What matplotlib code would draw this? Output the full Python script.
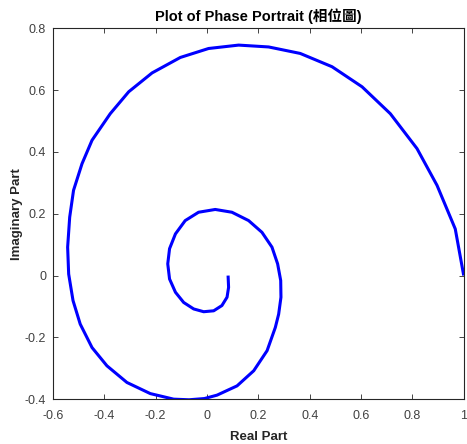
import matplotlib
matplotlib.use("Agg")
import matplotlib.pyplot as plt

# Trajectory in the complex plane, from the starting point (1, 0) spiralling inward.
real_part = [
    1.000, 0.967, 0.896, 0.818, 0.714, 0.604, 0.487, 0.363, 0.240, 0.123,
    0.006, -0.104, -0.214, -0.305, -0.377, -0.448, -0.487, -0.520, -0.535, -0.543,
    -0.539, -0.522, -0.494, -0.448, -0.390, -0.312, -0.221, -0.130, -0.070, -0.010,
    0.039, 0.117, 0.182, 0.234, 0.266, 0.279, 0.288, 0.287, 0.275, 0.253,
    0.214, 0.162, 0.097, 0.032, -0.033, -0.085, -0.123, -0.146, -0.153, -0.146,
    -0.123, -0.091, -0.052, -0.013, 0.026, 0.058, 0.078, 0.084, 0.082,
]
imag_part = [
    0.000, 0.151, 0.292, 0.411, 0.524, 0.611, 0.676, 0.719, 0.740, 0.746,
    0.735, 0.706, 0.656, 0.595, 0.524, 0.438, 0.362, 0.276, 0.189, 0.092,
    0.005, -0.081, -0.157, -0.233, -0.292, -0.346, -0.382, -0.400, -0.402, -0.398,
    -0.387, -0.357, -0.308, -0.243, -0.168, -0.125, -0.070, -0.016, 0.038, 0.092,
    0.140, 0.178, 0.205, 0.214, 0.205, 0.178, 0.135, 0.087, 0.038, -0.011,
    -0.054, -0.087, -0.108, -0.117, -0.114, -0.097, -0.070, -0.038, 0.000,
]

x_ticks = [-0.6, -0.4, -0.2, 0, 0.2, 0.4, 0.6, 0.8, 1]
y_ticks = [-0.4, -0.2, 0, 0.2, 0.4, 0.6, 0.8]

plt.rcParams["font.family"] = ["Liberation Sans", "Noto Sans CJK TC", "DejaVu Sans"]

axis_grey = "#262626"
label_grey = "#404040"

fig = plt.figure(figsize=(4.67, 4.44), dpi=100)
ax = fig.add_axes([0.1135, 0.101, 0.8795, 0.835])

ax.plot(real_part, imag_part, color=(0, 0, 1), linewidth=2.2,
        solid_joinstyle="round", solid_capstyle="butt")

ax.set_xlim(-0.6, 1)
ax.set_ylim(-0.4, 0.8)
ax.set_xticks(x_ticks)
ax.set_yticks(y_ticks)
ax.set_xticklabels([f"{v:g}" for v in x_ticks])
ax.set_yticklabels([f"{v:g}" for v in y_ticks])

for spine in ax.spines.values():
    spine.set_color(axis_grey)
    spine.set_linewidth(0.8)

ax.tick_params(direction="in", length=3.5, width=0.6, color=axis_grey,
               labelsize=9, labelcolor=label_grey, top=True, right=True)
ax.tick_params(axis="x", pad=8)
ax.tick_params(axis="y", pad=5)

ax.set_title("Plot of Phase Portrait (相位圖)", fontsize=10.5, fontweight="bold",
             color="black", pad=5)
ax.set_xlabel("Real Part", fontsize=9.5, fontweight="bold", color=axis_grey, labelpad=6)
ax.set_ylabel("Imaginary Part", fontsize=9.5, fontweight="bold", color=axis_grey, labelpad=1)

fig.savefig("out.png", dpi=100)
